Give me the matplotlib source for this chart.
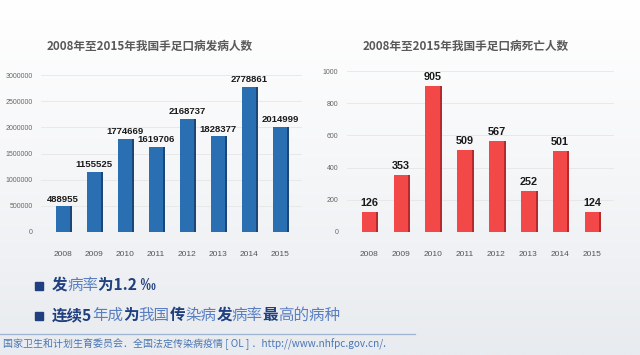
import numpy as np
import matplotlib
matplotlib.use("Agg")
import matplotlib.pyplot as plt
from matplotlib.colors import LinearSegmentedColormap

plt.rcParams['font.family'] = ['Noto Sans CJK SC', 'DejaVu Sans']

# data
years = ['2008', '2009', '2010', '2011', '2012', '2013', '2014', '2015']
cases = [488955, 1155525, 1774669, 1619706, 2168737, 1828377, 2778861, 2014999]
deaths = [126, 353, 905, 509, 567, 252, 501, 124]
title_cases = '2008年至2015年我国手足口病发病人数'
title_deaths = '2008年至2015年我国手足口病死亡人数'
cases_ticks = [0, 500000, 1000000, 1500000, 2000000, 2500000, 3000000]
deaths_ticks = [0, 200, 400, 600, 800, 1000]
line1 = [('发', True), ('病率', False), ('为1.2 ‰', True)]
line2 = [('连续5', True), ('年成', False), ('为', True), ('我国', False), ('传', True),
         ('染病', False), ('发', True), ('病率', False), ('最', True), ('高的病种', False)]
footer = '国家卫生和计划生育委员会．全国法定传染病疫情 [ OL ] ．http://www.nhfpc.gov.cn/.'

W, H = 640, 355
fig = plt.figure(figsize=(W / 100, H / 100), dpi=100)

# background gradient
bg = fig.add_axes([0, 0, 1, 1], zorder=-1)
grad = np.linspace(0, 1, 256).reshape(-1, 1)
cm = LinearSegmentedColormap.from_list('bg', ['#ffffff', '#f5f6f8', '#e8ebef'])
bg.imshow(grad, cmap=cm, extent=[0, 1, 0, 1], aspect='auto', origin='upper')
bg.set_xlim(0, 1)
bg.set_ylim(0, 1)
bg.axis('off')

num_font = ['Liberation Sans', 'DejaVu Sans']


def px_axes(left, right, top, bottom):
    return fig.add_axes([left / W, 1 - bottom / H, (right - left) / W, (bottom - top) / H])


def bar_chart(ax, vals, ticks, front, side, lab_size, fmt_pad):
    x = np.arange(len(vals))
    ax.bar(x + 0.24, vals, width=0.1, color=side, zorder=2)
    ax.bar(x, vals, width=0.46, color=front, zorder=3)
    for xi, v in zip(x, vals):
        ax.annotate(str(v), xy=(xi, v), xytext=(0, fmt_pad), textcoords='offset points',
                    ha='center', va='bottom', fontsize=lab_size, fontweight='bold',
                    color='#1a1a1a', family=num_font, zorder=4)
    ax.set_xlim(-0.7, len(vals) - 0.3)
    ax.set_ylim(0, ticks[-1])
    ax.set_yticks(ticks)
    ax.set_yticklabels([str(t) for t in ticks], fontsize=5, color='#666666', family=num_font)
    ax.set_xticks(x)
    ax.set_xticklabels(years, fontsize=6, color='#555555', family=num_font)
    ax.tick_params(axis='x', length=0, pad=14)
    ax.tick_params(axis='y', length=0, pad=6)
    ax.grid(axis='y', color='#e6e6e6', lw=0.6, zorder=0)
    ax.set_axisbelow(True)
    for s in ax.spines.values():
        s.set_visible(False)
    ax.patch.set_alpha(0)


ax1 = px_axes(41.3, 301.7, 75, 232)
bar_chart(ax1, cases, cases_ticks, '#2b6fb3', '#1b4677', 6.8, 2)
ax2 = px_axes(346.7, 614.3, 71, 232)
bar_chart(ax2, deaths, deaths_ticks, '#f24848', '#b52a2a', 7.8, 3)

fig.text(150 / W, 1 - 46 / H, title_cases, ha='center', va='center', fontsize=8.4,
         fontweight='bold', color='#595959')
fig.text(466 / W, 1 - 46 / H, title_deaths, ha='center', va='center', fontsize=8.4,
         fontweight='bold', color='#595959')

# bullet lines
dark = '#1f3f7e'
light = '#5a7fc0'
renderer = fig.canvas.get_renderer()


def rich_line(x, y, parts):
    for s, b in parts:
        t = bg.text(x, y, s, ha='left', va='baseline', fontsize=11.2,
                    color=dark if b else light, fontweight='bold' if b else 'normal',
                    family=['Noto Sans CJK SC', 'DejaVu Sans'])
        x += t.get_window_extent(renderer).width / W


bg.plot([38.5 / W, 38.5 / W], [1 - 286 / H, 1 - 316 / H], ls='none', marker='s',
        markersize=5.2, color=dark)
rich_line(52 / W, 1 - 290 / H, line1)
rich_line(52 / W, 1 - 320 / H, line2)

bg.plot([0, 415 / W], [1 - 334 / H, 1 - 334 / H], color='#9fb4d0', lw=0.9)
bg.text(3 / W, 1 - 344 / H, footer, ha='left', va='center', fontsize=7.2, color='#4a76b4')

fig.savefig('out.png', dpi=100)
